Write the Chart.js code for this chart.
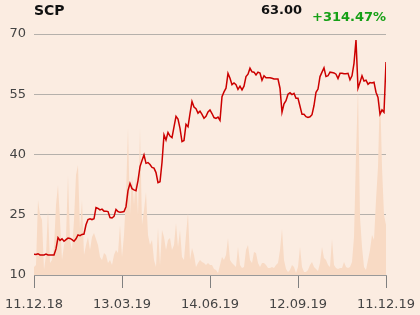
<!DOCTYPE html>
<html>
<head>
<meta charset="utf-8">
<script src="https://cdn.jsdelivr.net/npm/chart.js@4"></script>
<style>
  html, body { margin: 0; padding: 0; background: #fbece1; }
  #wrap { position: relative; width: 420px; height: 315px; font-family: "DejaVu Sans", sans-serif; }
  .hdr { position: absolute; font-weight: bold; line-height: 1; white-space: nowrap; }
  #sym { left: 34px; top: 3px; font-size: 14px; color: #111; }
  #last { right: 118px; top: 3px; font-size: 13px; color: #111; }
  #chg { left: 312px; top: 10px; font-size: 13px; color: #16a016; }
  canvas { position: absolute; left: 0; top: 0; }
</style>
</head>
<body>
<div id="wrap">
  <canvas id="chart" width="420" height="315"></canvas>
  <div class="hdr" id="sym">SCP</div>
  <div class="hdr" id="last">63.00</div>
  <div class="hdr" id="chg">+314.47%</div>
</div>
<script>
// one sample every ~1.4 trading days, 11.12.18 .. 11.12.19
const dateTicks = [0, 44, 88, 132, 176];
const dateLabels = ["11.12.18", "13.03.19", "14.06.19", "12.09.19", "11.12.19"];
const priceTicks = [10, 25, 40, 55, 70];

const prices = [
  15.2, 15.1, 15.3, 15.0, 15.0, 15.0, 15.2, 15.0, 15.0, 15.0,
  15.0, 16.5, 19.3, 18.6, 19.0, 18.4, 18.8, 19.2, 19.1, 18.8,
  18.4, 19.0, 20.0, 19.8, 20.1, 20.2, 22.5, 23.8, 24.0, 23.8,
  24.0, 26.8, 26.6, 26.2, 26.4, 25.9, 25.9, 25.8, 24.3, 24.2,
  24.6, 26.3, 25.8, 25.6, 25.7, 25.8, 27.0, 31.0, 32.8, 31.5,
  31.2, 31.0, 33.5, 37.0, 38.5, 39.9, 37.8, 38.0, 37.5, 36.8,
  36.6, 35.5, 33.0, 33.2, 38.0, 44.9, 43.6, 45.5, 44.6, 44.2,
  46.9, 49.5, 48.8, 46.5, 43.2, 43.5, 47.5, 46.9, 50.2, 53.2,
  51.8, 51.4, 50.3, 50.8, 50.0, 49.0, 49.5, 50.6, 51.1, 50.2,
  49.2, 49.0, 49.3, 48.5, 54.4, 55.6, 56.5, 60.2, 59.0, 57.4,
  57.8, 57.4, 56.2, 57.0, 56.1, 57.0, 59.4, 60.0, 61.5, 60.6,
  60.5, 59.8, 60.5, 60.3, 58.5, 59.6, 59.1, 59.1, 59.1, 59.0,
  58.8, 58.8, 58.8, 56.5, 50.5, 52.6, 53.4, 55.0, 55.4, 54.9,
  55.2, 54.0, 54.0, 52.0, 50.0, 50.0, 49.4, 49.2, 49.4, 49.9,
  52.2, 55.5, 56.3, 59.4, 60.5, 61.6, 59.4, 59.6, 60.5, 60.4,
  60.3, 60.0, 58.9, 60.2, 60.2, 60.1, 60.1, 60.2, 58.6, 59.6,
  62.7, 68.5, 56.5, 58.0, 59.6, 58.3, 58.5, 57.5, 57.9, 57.8,
  58.0, 55.5, 54.2, 50.0, 51.1, 50.5, 63.0
];

// traded volume, thousands of shares
const volumes = [
  8, 10, 75, 60, 55, 5, 20, 65, 12, 15,
  28, 70, 90, 55, 15, 30, 38, 100, 35, 25,
  55, 100, 110, 45, 75, 20, 30, 38, 25, 38,
  42, 36, 30, 18, 15, 22, 20, 12, 15, 10,
  20, 25, 22, 50, 18, 40, 80, 147, 60, 100,
  70, 100, 60, 147, 50, 65, 83, 40, 30, 35,
  15, 8, 47, 10, 45, 38, 25, 35, 37, 25,
  30, 52, 28, 45, 18, 15, 40, 62, 15, 27,
  20, 8, 12, 15, 13, 12, 10, 12, 10, 10,
  6, 5, 2, 10, 18, 15, 20, 37, 15, 12,
  10, 8, 28, 10, 7, 8, 25, 30, 15, 12,
  23, 22, 12, 8, 12, 12, 10, 7, 7, 8,
  7, 10, 12, 25, 46, 15, 6, 3, 5, 10,
  8, 2, 8, 28, 8, 3, 3, 5, 10, 13,
  8, 6, 4, 12, 28, 17, 15, 10, 8, 36,
  10, 7, 6, 7, 7, 13, 8, 7, 8, 13,
  38, 120, 188, 58, 28, 8, 5, 15, 25, 40,
  35, 75, 108, 188, 108, 60, 50
];

const priceData = prices.map((v, i) => ({ x: i, y: v }));
const volData = volumes.map((v, i) => ({ x: i, y: v }));

const ctx = document.getElementById("chart").getContext("2d");
new Chart(ctx, {
  type: "line",
  data: {
    datasets: [
      {
        label: "Kurs",
        data: priceData,
        yAxisID: "y",
        borderColor: "#cc0000",
        borderWidth: 1.5,
        pointRadius: 0,
        tension: 0,
        fill: false,
        order: 1
      },
      {
        label: "Volumen",
        data: volData,
        yAxisID: "vol",
        borderWidth: 0,
        borderColor: "rgba(0,0,0,0)",
        backgroundColor: "#f8dac4",
        pointRadius: 0,
        tension: 0,
        fill: "origin",
        order: 2
      }
    ]
  },
  options: {
    responsive: false,
    animation: false,
    layout: { autoPadding: false, padding: { top: 34, right: 34, left: 0, bottom: 0 } },
    plugins: { legend: { display: false }, tooltip: { enabled: false } },
    scales: {
      x: {
        type: "linear",
        min: 0,
        max: prices.length - 1,
        afterBuildTicks: s => { s.ticks = dateTicks.map(v => ({ value: v })); },
        afterFit: s => { s.height = 40; s.paddingLeft = 0; s.paddingRight = 0; },
        ticks: {
          autoSkip: false,
          maxRotation: 0,
          color: "#444",
          font: { family: "DejaVu Sans", size: 13 },
          padding: 9,
          callback: v => dateLabels[dateTicks.indexOf(v)]
        },
        grid: { drawOnChartArea: false, drawTicks: true, tickLength: 13, color: "#808080" },
        border: { color: "#999", width: 1 }
      },
      y: {
        position: "left",
        min: 10,
        max: 70,
        afterBuildTicks: s => { s.ticks = priceTicks.map(v => ({ value: v })); },
        afterFit: s => { s.width = 34; },
        ticks: {
          color: "#444",
          font: { family: "DejaVu Sans", size: 13 },
          padding: 8
        },
        grid: { color: "#b5b0ab", drawTicks: false, lineWidth: 1 },
        border: { display: false }
      },
      vol: {
        display: false,
        min: 0,
        max: 241
      }
    }
  }
});
</script>
</body>
</html>
